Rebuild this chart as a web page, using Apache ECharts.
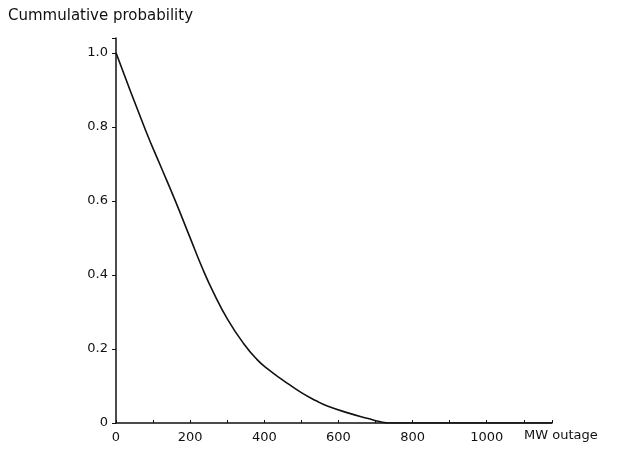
<!DOCTYPE html>
<html><head><meta charset="utf-8">
<script src="https://cdn.jsdelivr.net/npm/echarts@6/dist/echarts.min.js"></script>
<style>html,body{margin:0;padding:0;background:#fff}#c{width:621px;height:450px}</style>
</head><body><div id="c"></div>
<script>
var mwOutage = [0, 80, 120, 160, 200, 233, 263, 301, 344, 380, 409, 450, 500, 540, 570, 630, 680, 710, 740, 800, 900, 1000, 1176];
var cumProb = [1.0, 0.79, 0.695, 0.6, 0.5, 0.418, 0.352, 0.28, 0.215, 0.172, 0.146, 0.116, 0.082, 0.06, 0.046, 0.026, 0.012, 0.004, 0, 0, 0, 0, 0];
var yTickLabels = {0: '0', 0.2: '0.2', 0.4: '0.4', 0.6: '0.6', 0.8: '0.8', 1: '1.0'};
var xTickLabels = [0, 200, 400, 600, 800, 1000];

var font = 'DejaVu Sans';
var chart = echarts.init(document.getElementById('c'));
chart.setOption({
  animation: false,
  backgroundColor: '#fff',
  grid: {left: 116, right: 69, top: 38, bottom: 27},
  xAxis: {
    type: 'value', min: 0, max: 1176, interval: 100,
    axisLine: {lineStyle: {color: '#111', width: 1.5}},
    axisTick: {show: true, inside: true, length: 3, lineStyle: {color: '#111'}},
    axisLabel: {color: '#111', fontFamily: font, fontSize: 13, margin: 8,
      formatter: function (v) { return xTickLabels.indexOf(v) >= 0 ? String(v) : ''; }},
    splitLine: {show: false}
  },
  yAxis: {
    type: 'value', min: 0, max: 1.04, interval: 0.2,
    axisLine: {show: true, lineStyle: {color: '#111', width: 1.5}},
    axisTick: {show: true, length: 4, lineStyle: {color: '#111'}},
    axisLabel: {color: '#111', fontFamily: font, fontSize: 13, margin: 8,
      formatter: function (v) { var k = Math.round(v * 10) / 10; return yTickLabels.hasOwnProperty(k) && Math.abs(v - k) < 1e-6 ? yTickLabels[k] : ''; }},
    splitLine: {show: false}
  },
  graphic: [
    {type: 'text', left: 8, top: 9, style: {text: 'Cummulative probability', font: '15px "DejaVu Sans"', fill: '#111'}},
    {type: 'text', left: 524, top: 429, style: {text: 'MW outage', font: '13px "DejaVu Sans"', fill: '#111'}}
  ],
  series: [{
    type: 'line', smooth: 0.5, symbol: 'none',
    data: mwOutage.map(function (x, i) { return [x, cumProb[i]]; }),
    lineStyle: {color: '#111', width: 1.6}
  }]
});
</script></body></html>
